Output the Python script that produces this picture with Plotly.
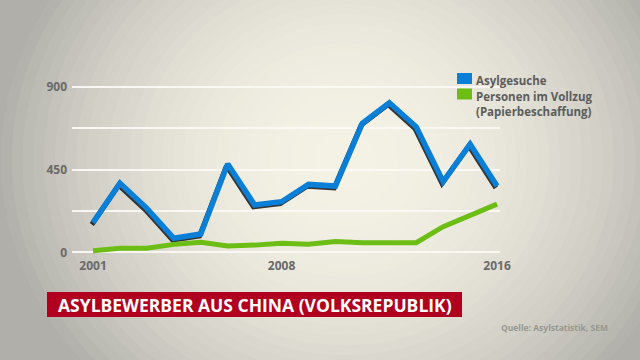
import plotly.graph_objects as go

# ---------------- data ----------------
years = list(range(2001, 2017))
asylgesuche = [161, 375, 239, 76, 99, 480, 257, 275, 369, 360, 701, 813, 682, 384, 588, 360]
vollzug = [9, 22, 22, 43, 54, 34, 39, 49, 44, 58, 52, 49, 52, 139, 203, 262]
series_names = ["Asylgesuche", "Personen im Vollzug<br>(Papierbeschaffung)"]
series_colors = ["#0a7fd8", "#6cbe14"]
x_tickvals = [2001, 2008, 2016]
y_tickvals = [0, 225, 450, 675, 900]
y_ticktext = ["0", "", "450", "", "900"]
title_text = "ASYLBEWERBER AUS CHINA (VOLKSREPUBLIK)"
source_text = "Quelle: Asylstatistik, SEM"

# ---------------- layout geometry (pixels) ----------------
W, H = 640, 360
ML, MR, MT, MB = 72, 140, 70, 105
PW, PH = W - ML - MR, H - MT - MB
XR = [2000.22, 2016.11]
YR = [-14.7, 990.8]


def px(x):
    return (x - ML) / PW


def py(y):
    return (H - MB - y) / PH


fig = go.Figure()

# shadow under the blue line (same data, drawn on an axis whose range is shifted slightly)
dx = 1.2 * (XR[1] - XR[0]) / PW
dy = 1.8 * (YR[1] - YR[0]) / PH
fig.add_trace(go.Scatter(x=years, y=asylgesuche, mode="lines", xaxis="x", yaxis="y",
                         line=dict(color="rgba(20,20,20,0.85)", width=5),
                         hoverinfo="skip", showlegend=False))
fig.add_trace(go.Scatter(x=years, y=asylgesuche, mode="lines", xaxis="x2", yaxis="y2",
                         name=series_names[0],
                         line=dict(color=series_colors[0], width=5.5), showlegend=False))
fig.add_trace(go.Scatter(x=years, y=vollzug, mode="lines", xaxis="x2", yaxis="y2",
                         name=series_names[1],
                         line=dict(color=series_colors[1], width=5), showlegend=False))

# ---------------- background vignette ----------------
shapes = []
cx, cy = 345, 160
rx_max, ry_max = 430, 390
c_center = (244, 241, 229)
c_edge = (176, 175, 169)
N = 40
for i in range(N):
    t = 1 - i / N
    f = min(1.0, (t * 1.22) ** 2.2)
    col = tuple(round(c_center[k] + (c_edge[k] - c_center[k]) * f) for k in range(3))
    rx, ry = rx_max * t, ry_max * t
    shapes.append(dict(type="circle", xref="paper", yref="paper", layer="below",
                       x0=px(cx - rx), x1=px(cx + rx), y0=py(cy + ry), y1=py(cy - ry),
                       fillcolor="rgb(%d,%d,%d)" % col, line=dict(width=0)))

# title box
shapes.append(dict(type="rect", xref="paper", yref="paper", layer="above",
                   x0=px(47), x1=px(462), y0=py(317), y1=py(292),
                   fillcolor="#b1001f", line=dict(width=0)))

# legend squares + labels
legend_y = [78.5, 94.0]
annotations = []
for name, c, ly in zip(series_names, series_colors, legend_y):
    shapes.append(dict(type="rect", xref="paper", yref="paper", layer="above",
                       x0=px(457), x1=px(472), y0=py(ly + 5.5), y1=py(ly - 5.5),
                       fillcolor=c, line=dict(width=0)))
    parts = name.split("<br>")
    annotations.append(dict(text="<br>".join("<b>%s</b>" % p for p in parts),
                            xref="paper", yref="paper", x=px(474), y=py(ly - 7.5),
                            xanchor="left", yanchor="top", showarrow=False, align="left",
                            font=dict(family="Open Sans", size=11.5, color="#5c5c5c")))

annotations.append(dict(text="<b>%s</b>" % title_text, xref="paper", yref="paper",
                        x=px(254.5), y=py(304.5), xanchor="center", yanchor="middle",
                        showarrow=False,
                        font=dict(family="Open Sans", size=17.5, color="#ffffff")))
annotations.append(dict(text="<b>%s</b>" % source_text, xref="paper", yref="paper",
                        x=px(499), y=py(327.5), xanchor="left", yanchor="middle",
                        showarrow=False,
                        font=dict(family="Open Sans", size=8.5, color="#98978f")))

axis_font = dict(family="Open Sans", size=12, color="#6a6a6a", weight="bold")

fig.update_layout(
    width=W, height=H,
    margin=dict(l=ML, r=MR, t=MT, b=MB, pad=0),
    paper_bgcolor="rgb(176,175,169)",
    plot_bgcolor="rgba(0,0,0,0)",
    showlegend=False,
    shapes=shapes,
    annotations=annotations,
    xaxis=dict(range=[XR[0] + dx, XR[1] + dx], visible=False, fixedrange=True),
    yaxis=dict(range=[YR[0] + dy, YR[1] + dy], visible=False, fixedrange=True),
    xaxis2=dict(range=XR, overlaying="x", tickvals=x_tickvals,
                ticktext=[str(v) for v in x_tickvals],
                showgrid=False, zeroline=False, showline=False, ticks="",
                tickfont=axis_font, ticklabelstandoff=2, fixedrange=True),
    yaxis2=dict(range=YR, overlaying="y", side="left", tickvals=y_tickvals, ticktext=y_ticktext,
                showgrid=True, gridcolor="rgba(250,249,244,0.95)", gridwidth=1.5,
                zeroline=False, showline=False, ticks="",
                tickfont=axis_font, ticklabelstandoff=4, fixedrange=True),
)

fig.write_html("out.html", config={"displayModeBar": False},
               post_script="document.body.style.margin='0';")
